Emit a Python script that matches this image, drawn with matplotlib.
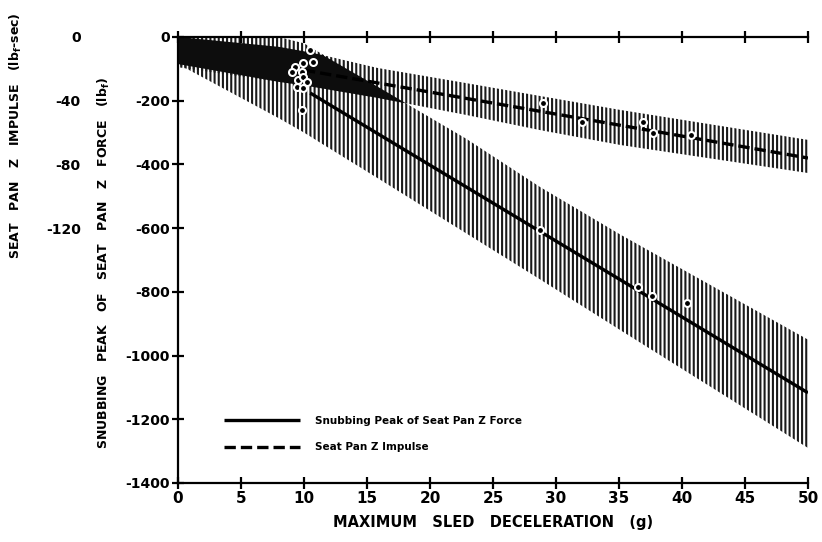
import numpy as np
import matplotlib
matplotlib.use("Agg")
import matplotlib.pyplot as plt

# band edges (force scale, lbf)
band_x = [0, 8, 10, 11.5, 15.8, 22.9, 28.7, 35.1, 50]
force_hi = [0, 0, -20, -55, -155, -320, -470, -620, -950]
force_lo = [-85, -255, -300, -337, -442, -617, -760, -920, -1290]
imp_hi = [0, -31, -45, -57, -97, -145, -185, -229, -323]
imp_lo = [-95, -141, -152, -162, -191, -245, -292, -339, -427]

# fitted lines
force_line_x = [10.5, 50]
force_line_y = [-176, -1117]
imp_line_x = [10, 50]
imp_line_y = [-104, -380]

# measured points
force_pts_x = [9.92, 9.29, 9.05, 9.84, 9.52, 9.92, 10.24, 9.44, 9.92, 9.84, 10.48, 10.71,
               28.7, 36.5, 37.6, 40.4]
force_pts_y = [-82, -94, -110, -110, -135, -126, -141, -157, -160, -229, -41, -78,
               -606, -785, -813, -835]
imp_pts_x = [29.0, 32.1, 36.9, 37.7, 40.7]
imp_pts_y = [-207, -267, -267, -301, -307]

x_ticks = [0, 5, 10, 15, 20, 25, 30, 35, 40, 45, 50]
force_ticks = [0, -200, -400, -600, -800, -1000, -1200, -1400]
imp_ticks = [0, -40, -80, -120]

plt.rcParams['hatch.linewidth'] = 1.5
plt.rcParams['font.weight'] = 'bold'
plt.rcParams['axes.labelweight'] = 'bold'

fig = plt.figure(figsize=(8.22, 5.42), dpi=100)
ax = fig.add_axes([0.2165, 0.1089, 0.7664, 0.8229])

bx = np.array(band_x)
ax.fill_between(bx, force_lo, force_hi, facecolor='none', edgecolor='#1a1a1a',
                hatch='||||', linewidth=0)
ax.fill_between(bx, imp_lo, imp_hi, facecolor='none', edgecolor='#1a1a1a',
                hatch='||||', linewidth=0)
# where both bands overlap the hatching runs together into solid black
top = np.minimum(force_hi, imp_hi)
bot = np.maximum(force_lo, imp_lo)
ax.fill_between(bx, bot, top, where=top > bot, interpolate=True,
                facecolor='#0d0d0d', linewidth=0)

ax.plot(force_line_x, force_line_y, color='black', lw=2.4, solid_capstyle='butt',
        label='Snubbing Peak of Seat Pan Z Force')
ax.plot(imp_line_x, imp_line_y, color='black', lw=2.4, dashes=(3.4, 1.5),
        label='Seat Pan Z Impulse')

ax.plot(force_pts_x, force_pts_y, 'o', ms=5, mfc='black', mec='white', mew=1.5)
ax.plot(imp_pts_x, imp_pts_y, 'o', ms=5, mfc='black', mec='white', mew=1.5)

ax.set_xlim(0, 50)
ax.set_ylim(-1400, 0)
ax.set_xticks(x_ticks)
ax.set_xticklabels([str(t) for t in x_ticks], fontsize=11)
ax.set_yticks(force_ticks)
ax.set_yticklabels([str(t) for t in force_ticks], fontsize=10)
ax.spines['right'].set_visible(False)
for s in ['left', 'bottom', 'top']:
    ax.spines[s].set_linewidth(1.6)
ax.tick_params(axis='x', direction='inout', length=8, width=1.6, pad=2, top=True)
ax.tick_params(axis='y', direction='inout', length=8, width=1.6, pad=2)

sec = ax.secondary_yaxis(-0.152, functions=(lambda f: f / 5, lambda i: i * 5))
sec.set_yticks(imp_ticks)
sec.set_yticklabels([str(t) for t in imp_ticks], fontsize=10)
sec.spines['left'].set_visible(False)
sec.tick_params(length=0, pad=1)

ax.set_xlabel('MAXIMUM   SLED   DECELERATION   (g)', fontsize=10.5,
              fontweight='bold', labelpad=6)
fig.text(0.127, 0.515, 'SNUBBING   PEAK   OF   SEAT   PAN   Z   FORCE   (lb$_\\mathbf{f}$)',
         rotation=90, ha='center', va='center', fontsize=9)
fig.text(0.02, 0.75, 'SEAT   PAN   Z   IMPULSE   (lb$_\\mathbf{f}$-sec)',
         rotation=90, ha='center', va='center', fontsize=9)

ax.legend(loc='upper left', bbox_to_anchor=(0.058, 0.172), frameon=False,
          handlelength=7.3, handletextpad=1.4, labelspacing=1.6,
          prop={'weight': 'bold', 'size': 7.5})

fig.savefig('out.png', dpi=100)
